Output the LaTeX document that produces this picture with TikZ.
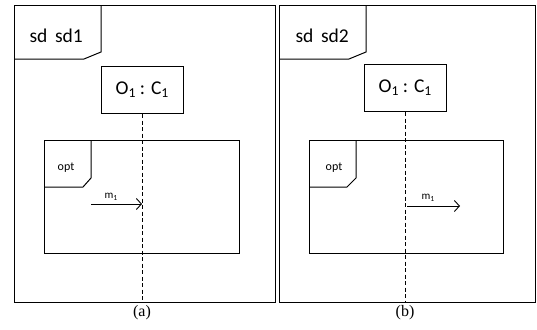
\documentclass[tikz,border=0pt]{standalone}
\usepackage{fontspec}
\setmainfont{Carlito}
\newfontfamily\capfont{Liberation Serif}
\usetikzlibrary{arrows.meta}

\newcommand{\sub}[1]{\raisebox{-0.35ex}{\scalebox{0.7}{#1}}}

\begin{document}
\begin{tikzpicture}[x=1pt,y=-1pt,
  frame/.style={draw,line width=1pt},
  object/.style={draw,line width=1pt,inner sep=0pt,
    minimum width=82pt,minimum height=47pt,font=\fontsize{19.5}{19.5}\selectfont},
  tabtext/.style={font=\fontsize{19.5}{19.5}\selectfont,anchor=base west},
  opttext/.style={font=\fontsize{12}{12}\selectfont},
  msgtext/.style={font=\fontsize{11}{11}\selectfont},
  lifeline/.style={line width=0.9pt,dash pattern=on 4pt off 2.5pt},
  message/.style={line width=0.9pt,-{Straight Barb[length=5pt,width=11pt,line width=0.9pt]}},
  caption/.style={font=\capfont\fontsize{16}{16}\selectfont}]
  \useasboundingbox (0,0) rectangle (537,329);

  % (a)
  \draw[frame] (14,6) rectangle (275,302);
  \draw[frame] (101,6) -- (101,52) -- (84,59) -- (14,59);
  \node[tabtext] (tabA) at (26,43) {sd\, sd1};
  \node[object] (objA) at (142,90) {O\sub{1} : C\sub{1}};
  \coordinate (endA) at (142,302);
  \draw[lifeline] (objA.south) -- (endA);
  \draw[frame] (44,140) rectangle (239,253);
  \draw[frame] (91,140) -- (91,178) -- (83,187) -- (44,187);
  \node[opttext] (optA) at (66,168) {opt};
  \coordinate (srcA) at (91,204);
  \coordinate (dstA) at (142,204);
  \draw[message] (srcA) -- (dstA);
  \node[msgtext] (msgA) at (111,197) {m\sub{1}};
  \node[caption] (capA) at (142,313) {(a)};

  % (b)
  \draw[frame] (279,6) rectangle (535,302);
  \draw[frame] (366,6) -- (366,52) -- (349,59) -- (279,59);
  \node[tabtext] (tabB) at (292,43) {sd\, sd2};
  \node[object] (objB) at (405,88) {O\sub{1} : C\sub{1}};
  \coordinate (endB) at (405,302);
  \draw[lifeline] (objB.south) -- (endB);
  \draw[frame] (309,140) rectangle (503,253);
  \draw[frame] (356,140) -- (356,178) -- (347,187) -- (309,187);
  \node[opttext] (optB) at (334,168) {opt};
  \coordinate (srcB) at (407,206);
  \coordinate (dstB) at (460,206);
  \draw[message] (srcB) -- (dstB);
  \node[msgtext] (msgB) at (428,198) {m\sub{1}};
  \node[caption] (capB) at (405,313) {(b)};
\end{tikzpicture}
\end{document}
